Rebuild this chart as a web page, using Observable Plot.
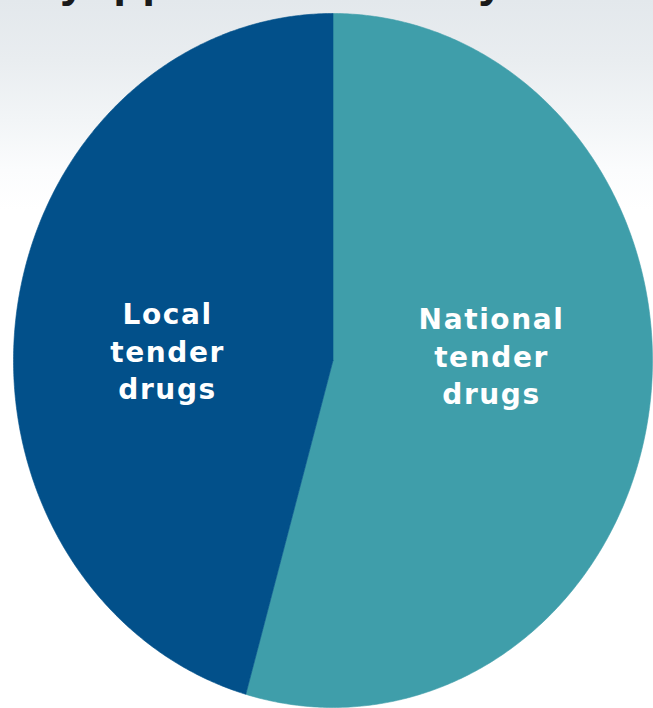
<!DOCTYPE html>
<html>
<head>
<meta charset="utf-8">
<script src="https://cdn.jsdelivr.net/npm/d3@7"></script>
<script src="https://cdn.jsdelivr.net/npm/@observablehq/plot@0.6"></script>
<style>
  html, body { margin: 0; padding: 0; }
  body {
    width: 653px; height: 708px; overflow: hidden; position: relative;
    background: linear-gradient(to bottom, #e3e8ec 0px, #e9edf0 60px, #f2f5f7 120px, #fbfcfd 170px, #ffffff 210px);
  }
  #title {
    position: absolute; left: 60px; top: -47px; white-space: nowrap;
    font-family: "Liberation Sans", Arial, sans-serif; font-weight: bold;
    font-size: 46px; line-height: 54px; color: #1a1a1a; letter-spacing: 1px;
  }
  #chart { position: absolute; left: 0; top: 0; }
  svg { background: transparent !important; }
  svg text.slice-label, svg .slice-label text { letter-spacing: 1.6px; }
</style>
</head>
<body>
<div id="title">yapproved route by</div>
<div id="chart"></div>
<script>
// Data
const categories = ["National tender drugs", "Local tender drugs"];
const shares = [54.4, 45.6];
const labelTexts = ["National\ntender\ndrugs", "Local\ntender\ndrugs"];
const sliceColors = ["#3f9eaa", "#02508a"];

// Layout (label anchor in unit pie coordinates)
const labelAt = [[0.493, -0.017], [-0.521, -0.032]];

// Build pie outlines from the data
const arcs = d3.pie().sort(null)(shares);
const outline = [];
arcs.forEach((a, i) => {
  const name = categories[i];
  outline.push({name, x: 0, y: 0});
  const steps = Math.max(2, Math.ceil((a.endAngle - a.startAngle) / (Math.PI / 360)));
  for (let k = 0; k <= steps; k++) {
    const t = a.startAngle + (a.endAngle - a.startAngle) * k / steps;
    outline.push({name, x: Math.sin(t), y: -Math.cos(t)});
  }
  outline.push({name, x: 0, y: 0});
});

const labels = categories.map((c, i) => ({name: c, text: labelTexts[i], x: labelAt[i][0], y: labelAt[i][1]}));

const chart = Plot.plot({
  width: 653,
  height: 708,
  margin: 0,
  style: {background: "transparent"},
  x: {domain: [-1, 1], range: [13, 652], axis: null},
  y: {domain: [-1, 1], range: [13, 707], axis: null},
  color: {domain: categories, range: sliceColors},
  marks: [
    Plot.line(outline, {x: "x", y: "y", z: "name", fill: "name", stroke: "name", strokeWidth: 0.6, curve: "linear"}),
    Plot.text(labels, {
      x: "x", y: "y", text: "text",
      fill: "white",
      fontFamily: "DejaVu Sans, Verdana, sans-serif",
      fontWeight: "bold",
      fontSize: 28,
      lineHeight: 1.35,
      lineAnchor: "middle",
      textAnchor: "middle",
      dx: 1,
      className: "slice-label"
    })
  ]
});
document.getElementById("chart").appendChild(chart);
</script>
</body>
</html>
